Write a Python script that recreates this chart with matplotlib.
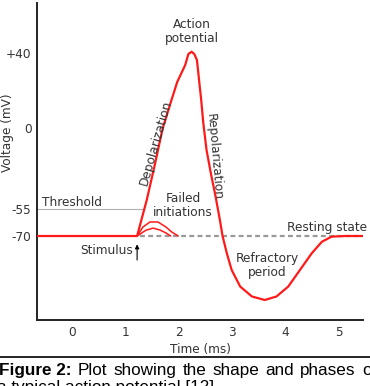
import matplotlib
matplotlib.use('Agg')
import matplotlib.pyplot as plt
import numpy as np

# membrane potential trace (time in ms, voltage in mV)
t_ap = [-0.66, 1.22, 1.27, 1.40, 1.55, 1.70, 1.84, 1.97, 2.12, 2.18, 2.24, 2.29, 2.34, 2.38,
        2.42, 2.46, 2.52, 2.60, 2.69, 2.77, 2.82, 2.90, 2.99, 3.15, 3.37, 3.61, 3.83, 4.05,
        4.27, 4.49, 4.68, 4.86, 5.11, 5.43]
v_ap = [-70, -70, -64.4, -48.9, -25.1, 0, 12.8, 24.5, 33.6, 39.5, 40.7, 39.5, 36.3, 25.6,
        14.9, 2.5, -14.9, -30.6, -46.6, -61.1, -70, -75.4, -80.6, -85.8, -88.9, -90, -88.9,
        -85.8, -80.6, -75.4, -71.8, -70.2, -70, -70]

# failed initiations (two small bumps)
t_fail1 = [1.22, 1.33, 1.46, 1.61, 1.76, 1.87, 1.99]
v_fail1 = [-70, -65, -62.2, -62.2, -65, -67.8, -70]
t_fail2 = [1.22, 1.39, 1.52, 1.65, 1.76, 1.85]
v_fail2 = [-70, -66.7, -65.6, -66.7, -68.3, -70]

threshold = -55
resting = -70
t_stim = 1.22
yticks = [40, 0, -55, -70]
ytick_labels = ['+40', '0', '-55', '-70']
xticks = [0, 1, 2, 3, 4, 5]

# schematic (non-linear) voltage axis: mV -> screen position
mv_anchor = [-150, -90, -70, -55, 0, 40, 120]
pos_anchor = [-492, -300, -236, -209, -128, -53, 97]


def fwd(v):
    return np.interp(v, mv_anchor, pos_anchor)


def inv(p):
    return np.interp(p, pos_anchor, mv_anchor)


W, H = 370, 386
fig = plt.figure(figsize=(W / 100, H / 100), dpi=100)
ax = fig.add_axes([37 / W, 1 - 320 / H, (363 - 37) / W, (320 - 3) / H])
ax.set_yscale('function', functions=(fwd, inv))
ax.set_xlim(-0.655, 5.45)
ax.set_ylim(-96.25, 66.7)

red = '#ff1a1a'
txt = '#333333'
fs = 8.7

ax.plot([t_ap[0], 1.34], [threshold, threshold], color='#b0b0b0', lw=0.8, zorder=1)
ax.plot([t_stim + 0.05, 5.43], [resting, resting], color='#999999', lw=1.6,
        dashes=(2.2, 1.5), zorder=1)
ax.plot(t_fail1, v_fail1, color=red, lw=1.1, zorder=2, solid_capstyle='round')
ax.plot(t_fail2, v_fail2, color=red, lw=1.1, zorder=2, solid_capstyle='round')
ax.plot(t_ap, v_ap, color=red, lw=1.6, zorder=3, solid_joinstyle='round')

ax.annotate('', xy=(t_stim, -72.6), xytext=(t_stim, -77.5),
            arrowprops=dict(arrowstyle='-|>', color='black', lw=0.8, mutation_scale=6,
                            shrinkA=0, shrinkB=0))

ax.text(2.25, 51.5, 'Action\npotential', ha='center', va='center', fontsize=fs, color=txt,
        linespacing=1.1)
ax.text(-0.56, -50.9, 'Threshold', ha='left', va='center', fontsize=fs, color=txt)
ax.text(1.57, -10.2, 'Depolarization', ha='center', va='center', fontsize=fs, color=txt,
        rotation=74, rotation_mode='anchor')
ax.text(2.66, -19.7, 'Repolarization', ha='center', va='center', fontsize=fs, color=txt,
        rotation=-85, rotation_mode='anchor')
ax.text(2.08, -52.6, 'Failed\ninitiations', ha='center', va='center', fontsize=fs, color=txt,
        linespacing=1.1)
ax.text(1.14, -74.4, 'Stimulus', ha='right', va='center', fontsize=fs, color=txt)
ax.text(4.78, -65, 'Resting state', ha='center', va='center', fontsize=fs, color=txt)
ax.text(3.65, -79.2, 'Refractory\nperiod', ha='center', va='center', fontsize=fs, color=txt,
        linespacing=1.1)

ax.set_yticks(yticks)
ax.set_yticklabels(ytick_labels)
ax.set_xticks(xticks)
ax.tick_params(length=0, labelsize=fs, labelcolor=txt, pad=4)
ax.set_xlabel('Time (ms)', fontsize=fs, color=txt, labelpad=3)
ax.set_ylabel('Voltage (mV)', fontsize=fs, color=txt, va='center')
ax.yaxis.set_label_coords(-29 / 326, (320 - 133) / 317)
for s in ['top', 'right']:
    ax.spines[s].set_visible(False)
for s in ['left', 'bottom']:
    ax.spines[s].set_linewidth(1.4)
    ax.spines[s].set_color('#222222')

# caption (justified first line, cut at right edge as in the source)
fig.add_artist(plt.Line2D([0, 1], [1 - 357 / H, 1 - 357 / H], transform=fig.transFigure,
                          color='black', lw=1.2))
cap_font = ['Liberation Sans', 'DejaVu Sans']
cap_fs = 12.3
base1 = 1 - 375 / H
b = fig.text(-1 / W, base1, 'Figure 2:', fontsize=cap_fs, fontweight='bold',
             family=cap_font, va='baseline', ha='left')
words = ['Plot', 'showing', 'the', 'shape', 'and', 'phases', 'of']
fig.canvas.draw()
r = fig.canvas.get_renderer()
x0 = b.get_window_extent(r).x1
wt = []
for w in words:
    tw = fig.text(0, 0, w, fontsize=cap_fs, family=cap_font)
    wt.append(tw.get_window_extent(r).width)
    tw.remove()
line_end = 376
gap = (line_end - x0 - sum(wt)) / len(words)
x = x0 + gap
for w, wd in zip(words, wt):
    fig.text(x / W, base1, w, fontsize=cap_fs, family=cap_font, va='baseline', ha='left')
    x += wd + gap
fig.text(-3 / W, 1 - 392 / H, 'a typical action potential [12]', fontsize=cap_fs,
         family=cap_font, va='baseline', ha='left')

fig.savefig('out.png', dpi=100)
